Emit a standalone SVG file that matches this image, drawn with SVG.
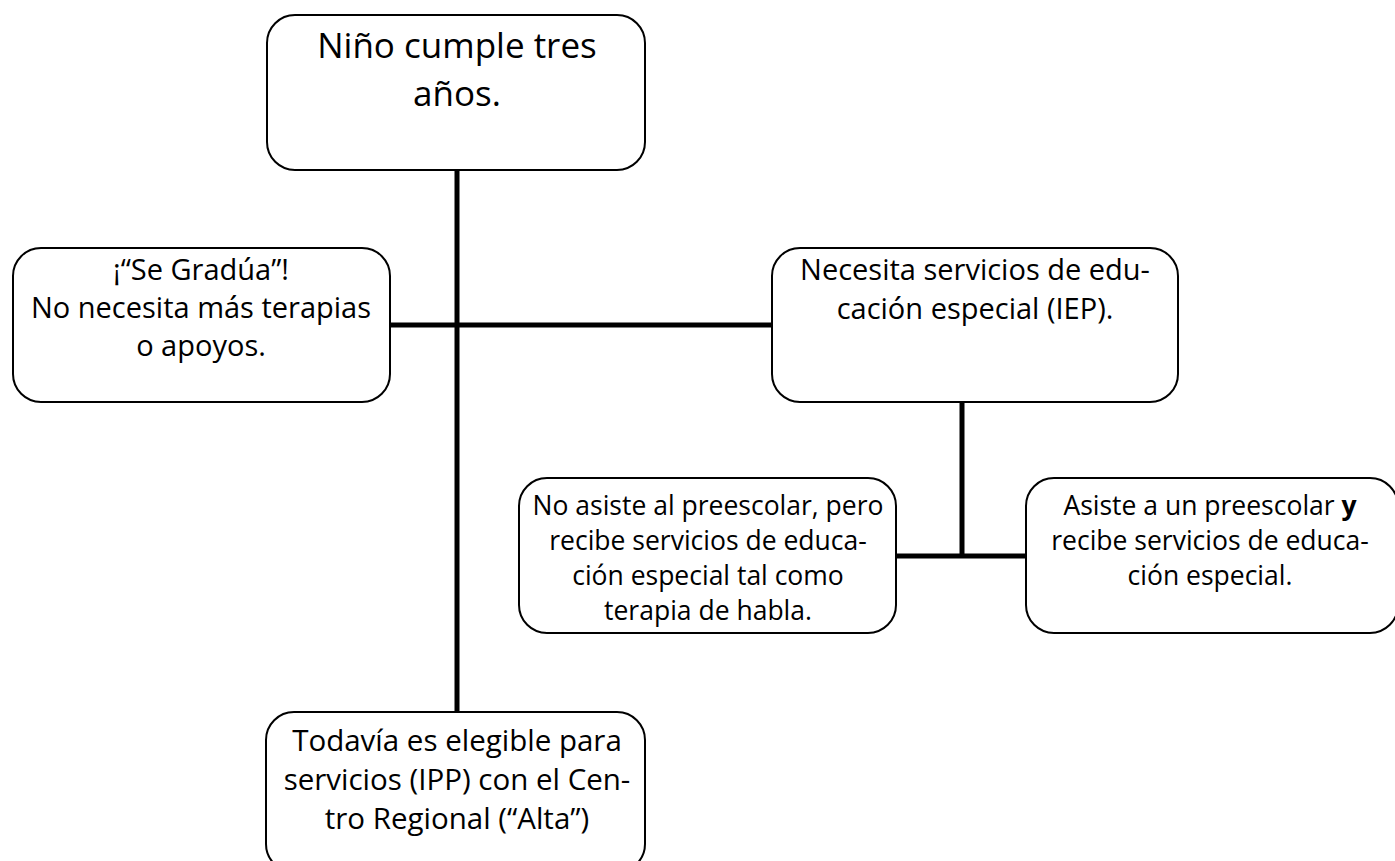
<svg xmlns="http://www.w3.org/2000/svg" width="1395" height="861" viewBox="0 0 1395 861">
<style>
.box{fill:#fff;stroke:#000;stroke-width:2}
.t{font-family:"Open Sans","Liberation Sans",sans-serif;fill:#000;text-anchor:middle}
.c{stroke:#000;stroke-width:5;fill:none}
</style>
<rect width="1395" height="861" fill="#fff"/>
<g id="connectors">
<line class="c" x1="457" y1="170" x2="457" y2="712"/>
<line class="c" x1="390" y1="325" x2="772" y2="325"/>
<line class="c" x1="962" y1="402" x2="962" y2="556"/>
<line class="c" x1="896" y1="556" x2="1026" y2="556"/>
</g>
<g id="n-top">
<rect class="box" x="267" y="15" width="378" height="155" rx="28"/>
<text class="t" font-size="35"><tspan x="457" y="58">Niño cumple tres</tspan><tspan x="457" y="106">años.</tspan></text>
</g>
<g id="n-left">
<rect class="box" x="13" y="248" width="377" height="154" rx="28"/>
<text class="t" font-size="29"><tspan x="201" y="280">¡“Se Gradúa”!</tspan><tspan x="201" y="318">No necesita más terapias</tspan><tspan x="201" y="356">o apoyos.</tspan></text>
</g>
<g id="n-right">
<rect class="box" x="772" y="248" width="406" height="154" rx="28"/>
<text class="t" font-size="29"><tspan x="975" y="280">Necesita servicios de edu-</tspan><tspan x="975" y="319">cación especial (IEP).</tspan></text>
</g>
<g id="n-mid">
<rect class="box" x="519" y="478" width="377" height="155" rx="28"/>
<text class="t" font-size="26.5"><tspan x="708" y="515">No asiste al preescolar, pero</tspan><tspan x="708" y="550">recibe servicios de educa-</tspan><tspan x="708" y="585">ción especial tal como</tspan><tspan x="708" y="620">terapia de habla.</tspan></text>
</g>
<g id="n-br">
<rect class="box" x="1026" y="478" width="372" height="155" rx="28"/>
<text class="t" font-size="26.5"><tspan x="1210" y="515">Asiste a un preescolar <tspan font-weight="bold">y</tspan></tspan><tspan x="1210" y="550">recibe servicios de educa-</tspan><tspan x="1210" y="585">ción especial.</tspan></text>
</g>
<g id="n-bottom">
<rect class="box" x="266" y="712" width="379" height="160" rx="28"/>
<text class="t" font-size="29.5"><tspan x="457" y="751">Todavía es elegible para</tspan><tspan x="457" y="790">servicios (IPP) con el Cen-</tspan><tspan x="457" y="829">tro Regional (“Alta”)</tspan></text>
</g>
</svg>
